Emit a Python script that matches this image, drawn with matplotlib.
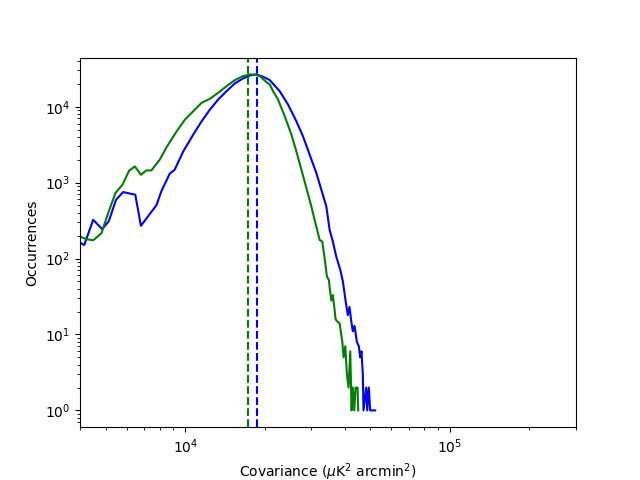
import matplotlib
matplotlib.use("Agg")
import matplotlib.pyplot as plt

# Blue histogram (bin centre, occurrences)
blue_x = [3950, 4150, 4487, 4853, 5140, 5473, 5823, 6474, 6797, 7785, 8115, 8735, 9121,
          9829, 10720, 11530, 12397, 13322, 14330, 15396, 16548, 17540, 18590, 19690,
          20870, 22750, 24460, 26300, 27860, 29530, 31290, 32690, 34140, 35130, 36140,
          37230, 38550, 39430, 40360, 41170, 41780, 42410, 43000, 43650, 44520, 45300,
          45850, 46370, 46900, 47180, 48310, 48730, 49410, 50010, 52240]
blue_y = [165, 151, 324, 244, 311, 594, 751, 692, 270, 506, 765, 1312, 1480,
          2583, 4295, 6431, 9183, 12450, 16030, 20260, 23580, 25830, 26640, 24830,
          22390, 16030, 10690, 6431, 4076, 2337, 1340, 806, 485, 239, 167,
          106, 71, 50, 28, 18, 23, 15, 11, 13, 8, 7,
          5, 6, 3, 1, 2, 1, 2, 1, 1]

# Green histogram (bin centre, occurrences)
green_x = [3950, 4057, 4233, 4487, 4824, 5110, 5446, 5787, 6135, 6447, 6797, 7129, 7447,
           8009, 8509, 9281, 9975, 10720, 11530, 12397, 13322, 14330, 15396, 16548,
           17540, 18320, 19130, 20280, 20870, 21470, 22420, 23770, 25190, 26300, 27480,
           28700, 29970, 30830, 31740, 32210, 32960, 33640, 34310, 34920, 35130, 35650,
           36140, 36690, 37000, 37410, 38320, 39240, 39680, 40270, 40830, 41430, 42050,
           42530, 43000, 43540, 44040, 44800, 45070]
green_y = [200, 191, 180, 174, 216, 397, 729, 938, 1436, 1637, 1271, 1449, 1449,
           2007, 2952, 4747, 6776, 8716, 11260, 12710, 15260, 18660, 22390, 25290,
           26640, 26400, 25300, 21070, 19650, 16030, 12450, 7490, 4295, 2583, 1480,
           849, 485, 324, 216, 176, 167, 101, 58, 52, 42, 28,
           33, 21, 16, 15, 14, 8, 5, 7, 3, 2, 6,
           1, 2, 1, 2, 2, 1]

green_mark = 17280
blue_mark = 18750

fig, ax = plt.subplots(figsize=(6.4, 4.8), dpi=100)
ax.plot(blue_x, blue_y, color='b')
ax.plot(green_x, green_y, color='g')
ax.axvline(green_mark, color='g', linestyle='--')
ax.axvline(blue_mark, color='b', linestyle='--')
ax.set_xscale('log')
ax.set_yscale('log')
ax.set_xlim(4000, 300000)
ax.set_xlabel(r'Covariance ($\mu$K$^2$ arcmin$^2$)')
ax.set_ylabel('Occurrences')
fig.savefig('out.png', dpi=100)
